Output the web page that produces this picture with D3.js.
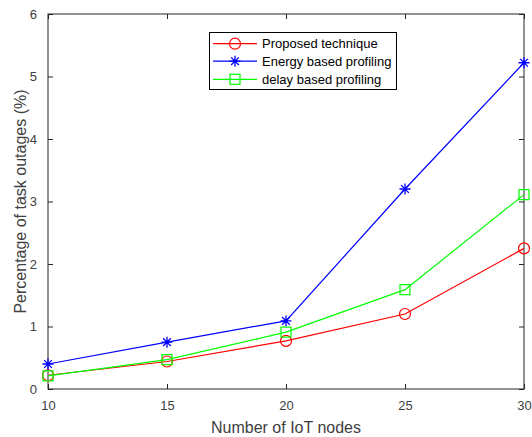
<!DOCTYPE html>
<html><head><meta charset="utf-8">
<script src="https://cdn.jsdelivr.net/npm/d3@7"></script>
<style>body{margin:0;background:#fff;} text{font-family:"Liberation Sans",Arial,sans-serif;}</style>
</head><body>
<svg id="c" width="532" height="437"></svg>
<script>
const nodes = [10, 15, 20, 25, 30];
const proposed = [0.22, 0.44, 0.77, 1.2, 2.25];
const energy = [0.4, 0.75, 1.09, 3.2, 5.22];
const delay = [0.21, 0.47, 0.91, 1.59, 3.11];
const seriesNames = ["Proposed technique", "Energy based profiling", "delay based profiling"];
const xTicks = [10, 15, 20, 25, 30];
const yTicks = [0, 1, 2, 3, 4, 5, 6];

const svg = d3.select("#c");
const L = 48, R = 524, T = 14, B = 389;
const x = d3.scaleLinear().domain([10, 30]).range([L, R]);
const y = d3.scaleLinear().domain([0, 6]).range([B, T]);
const axisCol = "#262626", textCol = "#404040";

svg.append("rect").attr("x", L).attr("y", T).attr("width", R - L).attr("height", B - T)
  .attr("fill", "#fff").attr("stroke", axisCol).attr("stroke-width", 1);

function styleAxis(g) {
  g.select(".domain").remove();
  g.selectAll(".tick line").attr("stroke", axisCol);
  g.selectAll(".tick text").attr("fill", textCol).style("font-size", "13px");
}
svg.append("g").attr("transform", `translate(0,${B})`)
  .call(d3.axisBottom(x).tickValues(xTicks).tickSizeInner(-5).tickSizeOuter(0).tickPadding(12).tickFormat(d3.format("d")))
  .call(styleAxis);
svg.append("g").attr("transform", `translate(0,${T})`)
  .call(d3.axisTop(x).tickValues(xTicks).tickSizeInner(-5).tickSizeOuter(0).tickFormat(""))
  .call(styleAxis);
svg.append("g").attr("transform", `translate(${L},0)`)
  .call(d3.axisLeft(y).tickValues(yTicks).tickSizeInner(-5).tickSizeOuter(0).tickPadding(11).tickFormat(d3.format("d")))
  .call(styleAxis);
svg.append("g").attr("transform", `translate(${R},0)`)
  .call(d3.axisRight(y).tickValues(yTicks).tickSizeInner(-5).tickSizeOuter(0).tickFormat(""))
  .call(styleAxis);

svg.append("text").attr("x", (L + R) / 2).attr("y", 433).attr("text-anchor", "middle")
  .attr("fill", textCol).style("font-size", "16px").text("Number of IoT nodes");
svg.append("text").attr("transform", `translate(26,201.5) rotate(-90)`)
  .attr("text-anchor", "middle").attr("fill", textCol).style("font-size", "16px")
  .text("Percentage of task outages (%)");

const series = [
  {name: seriesNames[0], vals: proposed, color: "#ff0000", marker: "circle"},
  {name: seriesNames[1], vals: energy, color: "#0000ff", marker: "star"},
  {name: seriesNames[2], vals: delay, color: "#00ff00", marker: "square"}
];
const line = d3.line().x((d, i) => x(nodes[i])).y(d => y(d));

function drawMarker(g, type, cx, cy, color) {
  if (type === "circle") {
    g.append("circle").attr("cx", cx).attr("cy", cy).attr("r", 5.5)
      .attr("fill", "none").attr("stroke", color).attr("stroke-width", 1.2);
  } else if (type === "square") {
    g.append("rect").attr("x", cx - 5).attr("y", cy - 5).attr("width", 10).attr("height", 10)
      .attr("fill", "none").attr("stroke", color).attr("stroke-width", 1.2);
  } else {
    const s = 5.5;
    const p = `M${cx - s},${cy}L${cx + s},${cy}M${cx},${cy - s}L${cx},${cy + s}` +
      `M${cx - s * 0.7},${cy - s * 0.7}L${cx + s * 0.7},${cy + s * 0.7}M${cx - s * 0.7},${cy + s * 0.7}L${cx + s * 0.7},${cy - s * 0.7}`;
    g.append("path").attr("d", p).attr("stroke", color).attr("stroke-width", 1.3).attr("fill", "none");
  }
}

series.forEach(s => {
  svg.append("path").datum(s.vals).attr("d", line).attr("fill", "none")
    .attr("stroke", s.color).attr("stroke-width", 1.2);
  const g = svg.append("g");
  s.vals.forEach((v, i) => drawMarker(g, s.marker, x(nodes[i]), y(v), s.color));
});

// legend
const lg = svg.append("g");
lg.append("rect").attr("x", 209.5).attr("y", 32.5).attr("width", 187).attr("height", 57)
  .attr("fill", "#fff").attr("stroke", "#000").attr("stroke-width", 1);
const rowsY = [43.7, 61.2, 79.3];
series.forEach((s, i) => {
  lg.append("line").attr("x1", 213).attr("x2", 257).attr("y1", rowsY[i]).attr("y2", rowsY[i])
    .attr("stroke", s.color).attr("stroke-width", 1.2);
  drawMarker(lg, s.marker, 235, rowsY[i], s.color);
  lg.append("text").attr("x", 262).attr("y", rowsY[i]).attr("dy", "0.35em")
    .attr("fill", "#000").style("font-size", "13px").text(s.name);
});
</script>
</body></html>
